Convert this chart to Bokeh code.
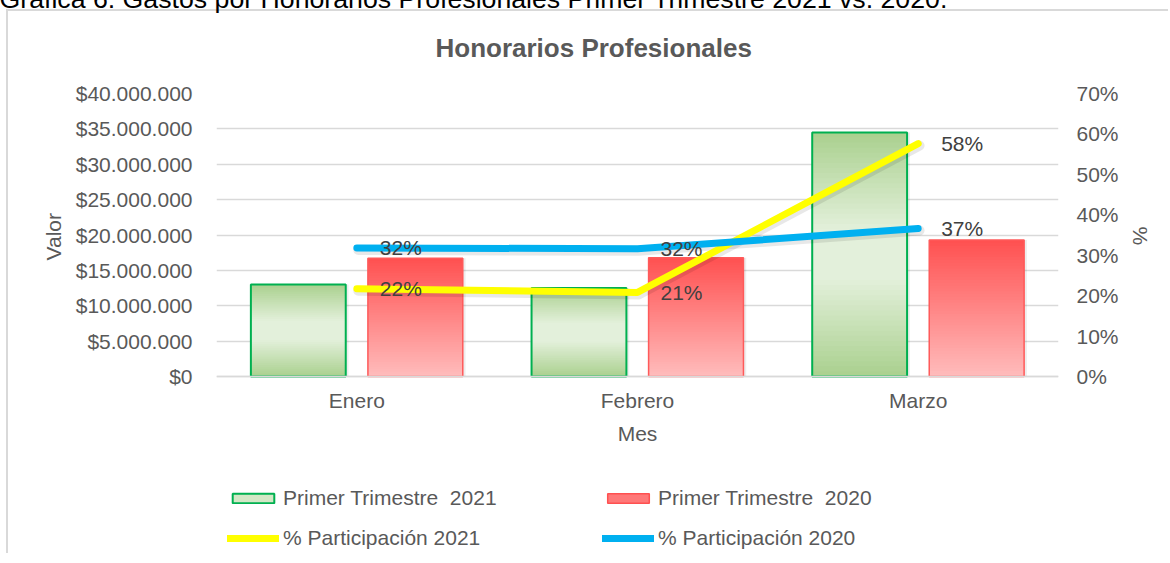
import numpy as np
from bokeh.plotting import figure
from bokeh.models import (ColumnDataSource, FactorRange, LinearAxis, Range1d, FixedTicker,
                          Legend, LegendItem, Title)
from bokeh.transform import dodge
from bokeh.embed import file_html
from bokeh.resources import INLINE
from bokeh.core.properties import value

# ---------------- data ----------------
meses = ["Enero", "Febrero", "Marzo"]
valor_2021 = [13_000_000, 12_500_000, 34_500_000]
valor_2020 = [16_700_000, 16_800_000, 19_300_000]
part_2021 = [21.7, 20.8, 57.6]   # percent
part_2020 = [31.8, 31.6, 36.6]   # percent

ticks_valor = [0, 5_000_000, 10_000_000, 15_000_000, 20_000_000,
               25_000_000, 30_000_000, 35_000_000, 40_000_000]
labels_valor = ["$0", "$5.000.000", "$10.000.000", "$15.000.000", "$20.000.000",
                "$25.000.000", "$30.000.000", "$35.000.000", "$40.000.000"]
ticks_pct = [0, 10, 20, 30, 40, 50, 60, 70]
labels_pct = ["0%", "10%", "20%", "30%", "40%", "50%", "60%", "70%"]

titulo = "Honorarios Profesionales"
leyenda_bar21 = "Primer Trimestre  2021"
leyenda_bar20 = "Primer Trimestre  2020"
leyenda_lin21 = "% Participación 2021"
leyenda_lin20 = "% Participación 2020"
caption = "Gráfica 6. Gastos por Honorarios Profesionales Primer Trimestre 2021 vs. 2020."

FONT = "Liberation Sans"
GRAY = "#595959"

# ---------------- geometry (page px) ----------------
DX, DY = 8, 40                      # canvas origin sits at page (-DX, -DY)
W = 1176
PAGE_BOTTOM = 553
H = PAGE_BOTTOM + DY
PX_LEFT, PX_RIGHT = 216, 1058       # plot area left/right
PY_TOP, PY_ZERO = 93, 376           # top gridline / baseline
FL = PX_LEFT + DX
FT = PY_TOP + DY
FR = W - (PX_RIGHT + DX)
FB = 0                              # frame runs to the bottom; legend lives inside it

below_frac = (PAGE_BOTTOM - PY_ZERO) / (PY_ZERO - PY_TOP)
VMAX, PMAX = 40_000_000, 70

border_css = ("linear-gradient(#d9d9d9,#d9d9d9) %dpx %dpx / 2px 100%% no-repeat, "
              "linear-gradient(#d9d9d9,#d9d9d9) %dpx %dpx / 100%% 2px no-repeat, #ffffff"
              % (6 + DX, 9 + DY, 6 + DX, 9 + DY))

p = figure(x_range=FactorRange(*meses), y_range=Range1d(-VMAX * below_frac, VMAX),
           width=W, height=H, output_backend="svg", toolbar_location=None,
           min_border_left=FL, min_border_right=FR, min_border_top=FT, min_border_bottom=FB,
           margin=(-DY, 0, 0, -DX), styles={"background": border_css})
p.outline_line_color = None
p.background_fill_color = "white"
p.border_fill_color = None
p.extra_y_ranges = {"pct": Range1d(-PMAX * below_frac, PMAX)}

p.xgrid.grid_line_color = None
p.ygrid.grid_line_color = "#d9d9d9"
p.ygrid.grid_line_width = 1.5
p.ygrid.ticker = FixedTicker(ticks=ticks_valor)

# caption = outermost title panel
p.title.text = caption
p.title.align = "left"
p.title.offset = -1 - PX_LEFT
p.title.standoff = 34
p.title.text_font = FONT
p.title.text_font_size = "26.7px"
p.title.text_font_style = "normal"
p.title.text_color = "#000000"

# spacer next to the frame, then chart title
p.add_layout(Title(text=" ", text_font_size="10px", standoff=18), "above")
p.add_layout(Title(text=titulo, align="left", offset=435 - PX_LEFT, standoff=0,
                   text_font=FONT, text_font_size="26px", text_font_style="bold",
                   text_color=GRAY), "above")

# left axis
ya = p.yaxis[0]
ya.ticker = FixedTicker(ticks=ticks_valor)
ya.major_label_overrides = dict(zip(ticks_valor, labels_valor))
ya.axis_line_color = None
ya.major_tick_line_color = None
ya.minor_tick_line_color = None
ya.major_tick_out = 0
ya.major_label_standoff = 24
ya.major_label_text_font = FONT
ya.major_label_text_font_size = "21px"
ya.major_label_text_color = GRAY
p.add_layout(Title(text="Valor", align="left", offset=PAGE_BOTTOM - 260, standoff=16,
                   text_font=FONT, text_font_size="21px", text_font_style="normal",
                   text_color=GRAY), "left")

# right axis
ra = LinearAxis(y_range_name="pct", ticker=FixedTicker(ticks=ticks_pct))
ra.major_label_overrides = dict(zip(ticks_pct, labels_pct))
ra.axis_line_color = None
ra.major_tick_line_color = None
ra.minor_tick_line_color = None
ra.major_tick_out = 0
ra.major_label_standoff = 18
ra.major_label_text_font = FONT
ra.major_label_text_font_size = "21px"
ra.major_label_text_color = GRAY
p.add_layout(ra, "right")
p.add_layout(Title(text="%", align="left", offset=226 - PY_TOP, standoff=14,
                   text_font=FONT, text_font_size="21px", text_font_style="normal",
                   text_color=GRAY), "right")

# x axis drawn at value zero inside the frame
xa = p.xaxis[0]
xa.fixed_location = 0
xa.axis_line_color = "#d9d9d9"
xa.axis_line_width = 1.5
xa.major_tick_line_color = None
xa.major_tick_out = 0
xa.major_label_standoff = 12
xa.major_label_text_font = FONT
xa.major_label_text_font_size = "21px"
xa.major_label_text_color = GRAY
xa.axis_label = "Mes"
xa.axis_label_text_font = FONT
xa.axis_label_text_font_size = "21px"
xa.axis_label_text_font_style = "normal"
xa.axis_label_text_color = GRAY
xa.axis_label_standoff = 7

# ---------------- gradient bars ----------------
BAR_W = 0.338
OFF = 0.2085
N = 48

def lerp(c0, c1, w):
    return "#%02x%02x%02x" % tuple(int(round(a + (b - a) * w)) for a, b in zip(c0, c1))

G_DARK, G_LIGHT = (169, 208, 142), (227, 240, 219)
R_TOP, R_BOT = (255, 80, 80), (255, 188, 188)

def green_color(t):   # t: 0 bottom .. 1 top
    w = 1 - abs(2 * t - 1)
    w = min(1.0, w * 1.25)
    return lerp(G_DARK, G_LIGHT, w)

def red_color(t):
    return lerp(R_BOT, R_TOP, t)

def segments(values, color_fn):
    xs, bots, tops, cols = [], [], [], []
    for m, v in zip(meses, values):
        for i in range(N):
            t0 = i / N
            t1 = min(1.0, (i + 1.8) / N)
            xs.append(m)
            bots.append(v * t0)
            tops.append(v * t1)
            cols.append(color_fn((i + 0.5) / N))
    return ColumnDataSource(dict(mes=xs, bottom=bots, top=tops, color=cols))

src_b21 = ColumnDataSource(dict(mes=meses, v=valor_2021))
src_b20 = ColumnDataSource(dict(mes=meses, v=valor_2020))

for src, off in ((src_b21, -OFF), (src_b20, OFF)):
    p.vbar(x=dodge("mes", off + 0.004, range=p.x_range), top="v", bottom=0, width=BAR_W + 0.012,
           fill_color="#000000", fill_alpha=0.07, line_color=None, source=src)

p.vbar(x=dodge("mes", -OFF, range=p.x_range), top="top", bottom="bottom", width=BAR_W,
       fill_color="color", line_color=None, source=segments(valor_2021, green_color))
p.vbar(x=dodge("mes", -OFF, range=p.x_range), top="v", bottom=0, width=BAR_W,
       fill_color=None, line_color="#00b050", line_width=2, source=src_b21)

p.vbar(x=dodge("mes", OFF, range=p.x_range), top="top", bottom="bottom", width=BAR_W,
       fill_color="color", line_color=None, source=segments(valor_2020, red_color))
p.vbar(x=dodge("mes", OFF, range=p.x_range), top="v", bottom=0, width=BAR_W,
       fill_color=None, line_color="#ff5a5a", line_width=1.5, source=src_b20)

# ---------------- lines ----------------
src_l21 = ColumnDataSource(dict(mes=meses, y=part_2021,
                                lbl=["%d%%" % round(v) for v in part_2021],
                                ys=[v - 0.5 for v in part_2021]))
src_l20 = ColumnDataSource(dict(mes=meses, y=part_2020,
                                lbl=["%d%%" % round(v) for v in part_2020],
                                ys=[v - 0.5 for v in part_2020]))

for src in (src_l21, src_l20):
    p.line(x=dodge("mes", 0.005, range=p.x_range), y="ys", source=src, y_range_name="pct",
           line_color="#000000", line_alpha=0.09, line_width=10, line_cap="round", line_join="round")

l21 = p.line(x="mes", y="y", source=src_l21, y_range_name="pct", line_color="#ffff00",
             line_width=7, line_cap="round", line_join="round")
l20 = p.line(x="mes", y="y", source=src_l20, y_range_name="pct", line_color="#00b0f0",
             line_width=7, line_cap="round", line_join="round")

for src in (src_l21, src_l20):
    p.text(x="mes", y="y", text="lbl", source=src, y_range_name="pct", x_offset=23,
           text_align="left", text_baseline="middle", text_font=value(FONT),
           text_font_size="21px", text_color="#404040")

# ---------------- legend (inside the extended frame) ----------------
# swatch-only proxies: NaN values are never drawn in the plot area
proxy = ColumnDataSource(dict(x=[meses[0]], top=[float("nan")], bottom=[float("nan")]))
g_proxy = p.vbar(x="x", top="top", bottom="bottom", width=0.1, source=proxy,
                 fill_color="#d3e7c6", line_color="#00b050", line_width=2)
r_proxy = p.vbar(x="x", top="top", bottom="bottom", width=0.1, source=proxy,
                 fill_color="#ff7878", line_color="#ff5050", line_width=1.5)

leg = Legend(items=[LegendItem(label=leyenda_bar21, renderers=[g_proxy]),
                    LegendItem(label=leyenda_bar20, renderers=[r_proxy]),
                    LegendItem(label=leyenda_lin21, renderers=[l21]),
                    LegendItem(label=leyenda_lin20, renderers=[l20])],
             orientation="horizontal", ncols=2, location=(227 - PX_LEFT, PAGE_BOTTOM - 550),
             border_line_color=None, background_fill_alpha=0, padding=0, margin=0,
             spacing=16, glyph_width=52, glyph_height=12, label_standoff=4, label_width=303,
             label_text_font=FONT, label_text_font_size="21px", label_text_color=GRAY)
p.add_layout(leg)

open("out.html", "w").write(file_html(p, INLINE))
